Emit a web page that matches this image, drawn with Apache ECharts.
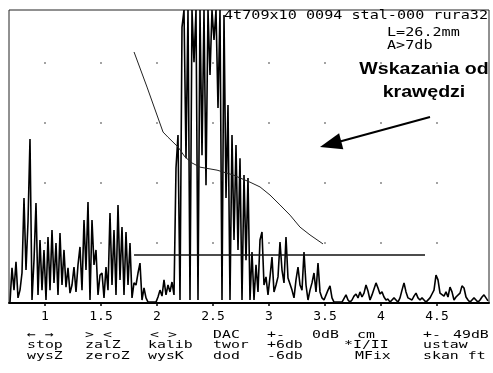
<!DOCTYPE html>
<html><head><meta charset="utf-8">
<script src="https://cdn.jsdelivr.net/npm/echarts@6/dist/echarts.min.js"></script>
<style>html,body{margin:0;padding:0;background:#fff}#c{width:493px;height:373px}</style>
</head><body><div id="c"></div>
<script>
// ---- axis ticks (cm) and amplitude grid (%) ----
const xTicks = [1, 1.5, 2, 2.5, 3, 3.5, 4, 4.5];
const yGrid = [20, 40, 60, 80];
const xMin = 0.6786, xMax = 4.9643, yMax = 97.7;

// ---- A-scan echo amplitudes (%), sampled along the time base ----
const echoStart = 0.6875, echoStep = 1 / 56;
const echoNear = [
  0.3, 11.7, 4.3, 13.7, 1.7, 4.3, 10, 35, 11, 27,
  54.7, 1, 14.3, 33.3, 2.7, 21, 4.3, 17.7, 1, 22,
  4.3, 24.3, 6.7, 20, 2.7, 23.3, 6, 17.7, 5.3, 11.7,
  3.3, 6, 12, 3.7, 12.7, 18.7, 4.3, 27.7, 11, 33.7,
  1, 27.7, 12.7, 17.7, 2.7, 9.3, 10, 1.7, 12, 4.3,
  30, 6, 24.3, 2.7, 32.7, 7.7, 25.3, 2.7, 23.7, 6,
  20, 1.7, 6.7, 6, 10, 13.3, 1, 5, 1.7, 0.3,
  0.3, 0.3, 0.3, 0.3, 2, 4.3, 2.3, 7.7, 2.7, 6
];
const echoMain = [
  3.7, 7, 2.7, 45, 56, 1, 92, 97.7, 48.3, 97.7,
  1, 97.7, 80.3, 97.7, 1, 97.7, 49.3, 97.7, 39.3, 97.7,
  76, 97.7, 87.7, 97.7, 65, 97.7, 1, 96, 35, 66,
  1, 56, 21, 52.7, 17.7, 48.3, 1, 42.7, 14.3, 41.7,
  1, 17, 1, 12.7, 3.7, 21, 23.7, 6, 8.7, 2.7
];
const echoFar = [
  8.7, 15.3, 3.7, 6, 8.7, 20.3, 11, 6.7, 22, 8.3,
  7.7, 4.3, 1.7, 7.7, 12, 6, 4.3, 17, 6, 1,
  4.3, 6.7, 10, 3.7, 13.3, 3.7, 1.7, 1, 1, 4.3,
  5.7, 1.7, 0.3, 0.3, 0.3, 0.3, 0.3, 0.3, 2.7, 1,
  0.3, 1, 2.3, 3, 1.7, 3.7, 2, 3.3, 6, 4,
  1, 2.7, 2.7, 6.7, 5, 3, 3.7, 2, 1, 1.3,
  0.3, 1, 1.7, 1, 0.3, 1.7, 4.3, 6.7, 3.7, 1.7,
  2, 1, 2.3, 3.3, 1.7, 1, 1.7, 1, 0.3, 0.3,
  1.7, 3, 4.3, 9.3, 7.7, 3.3, 3.7, 2.3, 3.7, 2,
  5.3, 3.7, 1, 2, 1.7, 3.3, 5.7, 5, 2, 1,
  0.3, 1, 1.7, 1, 0.3, 1, 2, 2.7, 1.7, 0.7
];

// ---- DAC curve ----
const dacX = [1.795, 1.911, 2.054, 2.098, 2.188, 2.25, 2.3125, 2.384, 2.536, 2.679, 2.741, 2.83, 2.92, 3.009, 3.098, 3.188, 3.277, 3.366, 3.482];
const dacY = [83.7, 72, 57, 55.3, 52, 48.7, 46.7, 45.3, 44.3, 42.7, 41.7, 40.3, 38.7, 36, 32.7, 29.3, 25.3, 22.7, 19.7];

// ---- gate ----
const gateLevel = 16, gateStart = 1.795, gateEnd = 4.393;

// ---- texts ----
const headerLines = ['4t709x10 0094 stal-000 rura32', 'L=26.2mm', 'A>7db'];
const noteLines = ['Wskazania od', 'krawędzi'];
const menuRow1 = ['← →', '> <', '< >', 'DAC', '+-', '0dB', 'cm', '+-', '49dB'];
const menuRow2 = ['stop', 'zalZ', 'kalib', 'twor', '+6db', '*I/II', 'ustaw'];
const menuRow3 = ['wysZ', 'zeroZ', 'wysK', 'dod', '-6db', 'MFix', 'skan ft'];

const echo = echoNear.concat(echoMain, echoFar).map((a, i) => [echoStart + i * echoStep, a]);
const dac = dacX.map((x, i) => [x, dacY[i]]);
const dots = [];
xTicks.forEach(x => yGrid.forEach(y => dots.push([x, y])));

const mono = "'DejaVu Sans Mono', monospace";
function monoText(str, x, y, size, sx) {
  return { type: 'text', x: x, y: y, scaleX: sx, z: 50,
    style: { text: str, font: size + 'px ' + mono, fill: '#000', textAlign: 'left', textVerticalAlign: 'middle' } };
}
const menuX1 = [27, 85, 150, 213, 267, 312, 357, 423, 453];
const menuX2 = [27, 85, 148, 213, 267, 344, 423];
const menuX3 = [27, 85, 148, 213, 267, 355, 423];
const graphics = [];
graphics.push(monoText(headerLines[0], 224, 15.5, 12, 1.26));
graphics.push(monoText(headerLines[1], 387, 32.5, 12, 1.26));
graphics.push(monoText(headerLines[2], 387, 45.5, 12, 1.26));
menuRow1.forEach((t, i) => graphics.push(monoText(t, menuX1[i], 335, 11, 1.35)));
menuRow2.forEach((t, i) => graphics.push(monoText(t, menuX2[i], 345.5, 11, 1.35)));
menuRow3.forEach((t, i) => graphics.push(monoText(t, menuX3[i], 356, 11, 1.35)));
[69, 92].forEach((y, i) => graphics.push({ type: 'text', x: 424, y: y, scaleX: 1.15, z: 50,
  style: { text: noteLines[i], font: "bold 17px 'Liberation Sans', Arial, sans-serif", fill: '#000', textAlign: 'center', textVerticalAlign: 'middle' } }));
graphics.push({ type: 'line', z: 50, shape: { x1: 430, y1: 117, x2: 340, y2: 141.5 }, style: { stroke: '#000', lineWidth: 2 } });
graphics.push({ type: 'polygon', z: 50, shape: { points: [[320, 147], [343.3, 149.2], [339.1, 133.3]] }, style: { fill: '#000' } });

const chart = echarts.init(document.getElementById('c'));
chart.setOption({
  animation: false,
  backgroundColor: '#fff',
  grid: { left: 9, top: 10, width: 480, height: 293, show: true, borderColor: '#222', borderWidth: 1, backgroundColor: 'transparent' },
  xAxis: {
    type: 'value', min: xMin, max: xMax,
    axisLine: { show: true, onZero: false, lineStyle: { color: '#000', width: 2 } },
    axisTick: { show: true, customValues: xTicks, length: 3, lineStyle: { color: '#000', width: 1.5 } },
    axisLabel: { customValues: xTicks, margin: 7, fontFamily: mono, fontSize: 13, color: '#000', formatter: v => String(v) },
    splitLine: { show: false }
  },
  yAxis: { type: 'value', min: 0, max: yMax, show: false, splitLine: { show: false } },
  series: [
    { type: 'scatter', data: dots, symbol: 'rect', symbolSize: 1.5, itemStyle: { color: '#333' }, silent: true },
    { type: 'line', data: echo, showSymbol: false, lineStyle: { color: '#000', width: 1.6 }, silent: true, clip: true },
    { type: 'line', data: dac, showSymbol: false, lineStyle: { color: '#222', width: 1 }, silent: true },
    { type: 'line', data: [[gateStart, gateLevel], [gateEnd, gateLevel]], showSymbol: false, lineStyle: { color: '#111', width: 1.5 }, silent: true }
  ],
  graphic: graphics
});
</script></body></html>
